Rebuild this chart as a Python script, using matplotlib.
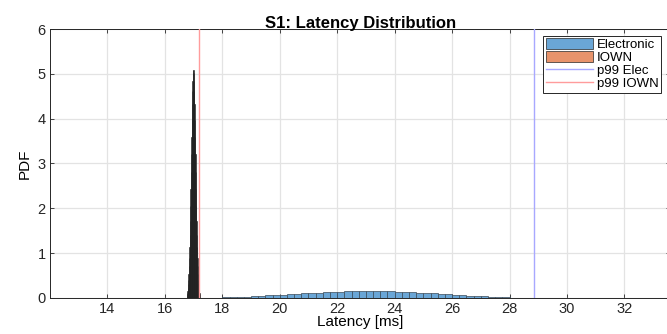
"""S1 latency distribution: Electronic vs IOWN histograms with p99 markers."""

import matplotlib

matplotlib.use("Agg")
import matplotlib.pyplot as plt
import numpy as np

# Electronic: 0.25 ms bins starting at 17.5 ms (PDF values)
elec_bin_start = 17.5
elec_bin_width = 0.25
elec_pdf = [
    0.003, 0.005,
    0.010, 0.015, 0.020, 0.027,
    0.035, 0.045, 0.055, 0.065,
    0.075, 0.085, 0.095, 0.105,
    0.112, 0.120, 0.128, 0.135,
    0.140, 0.145, 0.148, 0.150,
    0.152, 0.150, 0.148, 0.145,
    0.140, 0.135, 0.128, 0.120,
    0.110, 0.100, 0.090, 0.080,
    0.070, 0.060, 0.050, 0.040,
    0.032, 0.025, 0.018, 0.012,
    0.007, 0.003,
]

# IOWN: narrow spike, 0.01 ms bins starting at 16.76 ms
iown_bin_start = 16.76
iown_bin_width = 0.01
iown_pdf = [
    0.08, 0.11, 0.16, 0.22, 0.31, 0.41, 0.54, 0.71, 0.90, 1.14, 1.41, 1.72,
    2.06, 2.43, 2.82, 3.21, 3.60, 3.98, 4.32, 4.61, 4.85, 5.01, 5.09,
    5.09, 5.01, 4.85, 4.61, 4.32, 3.98, 3.60, 3.21, 2.82, 2.43, 2.06,
    1.72, 1.41, 1.14, 0.90, 0.71, 0.54, 0.41, 0.31, 0.22, 0.16, 0.11, 0.08,
]

p99_elec = 28.86
p99_iown = 17.19

x_ticks = [14, 16, 18, 20, 22, 24, 26, 28, 30, 32]
y_ticks = [0, 1, 2, 3, 4, 5, 6]

plt.rcParams["font.family"] = ["Liberation Sans", "DejaVu Sans"]

fig = plt.figure(figsize=(6.67, 3.34), dpi=100)
ax = fig.add_axes([0.075, 0.108, 0.93, 0.805])

elec_edges = elec_bin_start + elec_bin_width * np.arange(len(elec_pdf))
iown_edges = iown_bin_start + iown_bin_width * np.arange(len(iown_pdf))

ax.bar(elec_edges, elec_pdf, width=elec_bin_width, align="edge",
       color="#6aa6d6", edgecolor="#3a4a58", linewidth=0.5, zorder=3)
ax.bar(iown_edges, iown_pdf, width=iown_bin_width, align="edge",
       color="#222222", edgecolor="#222222", linewidth=0.4, zorder=3)
h_p99e = ax.axvline(p99_elec, color="#a8a8ff", linewidth=1.0, zorder=4)
h_p99i = ax.axvline(p99_iown, color="#ff9c9c", linewidth=1.0, zorder=4)

ax.set_xlim(12.0, 33.6)
ax.set_ylim(0, 6)
ax.set_xticks(x_ticks)
ax.set_yticks(y_ticks)
ax.grid(True, color="#e3e3e3", linewidth=0.9, zorder=0)
ax.set_axisbelow(True)
ax.tick_params(direction="in", top=True, right=True, labelsize=10.5,
               length=3, width=0.6, colors="#262626", pad=3)
for spine in ax.spines.values():
    spine.set_color("#262626")
    spine.set_linewidth(0.7)

ax.set_title("S1: Latency Distribution", fontsize=12, fontweight="bold", pad=1)
ax.set_xlabel("Latency [ms]", fontsize=11, labelpad=-1)
ax.set_ylabel("PDF", fontsize=11)

# legend patches show the bar fill colours
iown_patch = matplotlib.patches.Patch(facecolor="#e8936b", edgecolor="#262626", linewidth=0.5)
elec_patch = matplotlib.patches.Patch(facecolor="#6aa6d6", edgecolor="#262626", linewidth=0.5)
leg = ax.legend([elec_patch, iown_patch, h_p99e, h_p99i],
                ["Electronic", "IOWN", "p99 Elec", "p99 IOWN"],
                loc="upper right", bbox_to_anchor=(0.99, 0.985), fontsize=9.5,
                frameon=True, fancybox=False, borderpad=0.2, labelspacing=0.0,
                handlelength=3.6, handleheight=0.9, handletextpad=0.3, borderaxespad=0.2)
leg.get_frame().set_edgecolor("#262626")
leg.get_frame().set_linewidth(0.7)
leg.get_frame().set_alpha(1.0)

fig.savefig("out.png", dpi=100)
